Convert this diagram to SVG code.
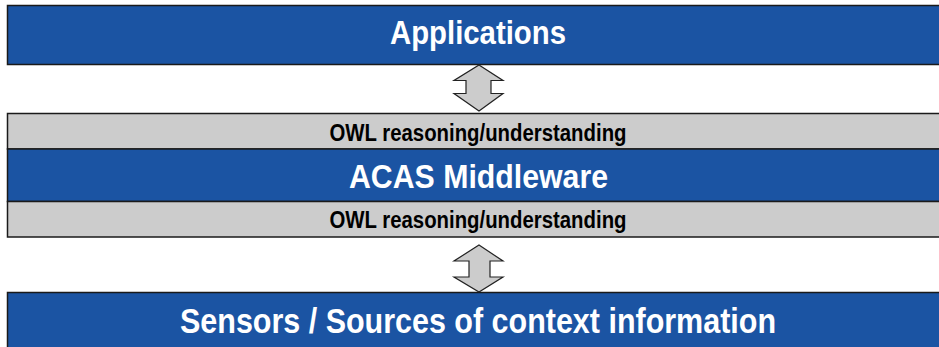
<svg xmlns="http://www.w3.org/2000/svg" width="939" height="347" viewBox="0 0 939 347">
  <style>
    .band { fill: #1b54a3; stroke: #1a1a1a; stroke-width: 1.5; }
    .strip { fill: #cccccc; stroke: #1a1a1a; stroke-width: 1.5; }
    .title { font-family: "Liberation Sans", Arial, sans-serif; font-weight: bold; fill: #ffffff; text-anchor: middle; }
    .sub { font-family: "Liberation Sans", Arial, sans-serif; font-weight: bold; fill: #000000; text-anchor: middle; font-size: 23.5px; }
    .dbl { fill: #cccccc; stroke: #222222; stroke-width: 1.2; stroke-linejoin: miter; }
  </style>
  <rect width="939" height="347" fill="#ffffff"/>

  <!-- Top layer -->
  <g id="applications">
    <rect class="band" x="7.5" y="5.5" width="940" height="59"/>
    <text class="title" x="478" y="44" font-size="33" textLength="176" lengthAdjust="spacingAndGlyphs">Applications</text>
  </g>

  <!-- Middleware stack: reasoning strip, middleware, reasoning strip -->
  <g id="owl-upper">
    <rect class="strip" x="7.5" y="113.5" width="940" height="35.5"/>
    <text class="sub" x="478" y="140.5" textLength="297" lengthAdjust="spacingAndGlyphs">OWL reasoning/understanding</text>
  </g>
  <g id="middleware">
    <rect class="band" x="7.5" y="149" width="940" height="52.5"/>
    <text class="title" x="478.5" y="188" font-size="33.5" textLength="259" lengthAdjust="spacingAndGlyphs">ACAS Middleware</text>
  </g>
  <g id="owl-lower">
    <rect class="strip" x="7.5" y="201.5" width="940" height="35.5"/>
    <text class="sub" x="478" y="227.5" textLength="297" lengthAdjust="spacingAndGlyphs">OWL reasoning/understanding</text>
  </g>

  <!-- Bottom layer -->
  <g id="sensors">
    <rect class="band" x="7.5" y="292.5" width="940" height="60"/>
    <text class="title" x="478" y="333" font-size="35" textLength="596" lengthAdjust="spacingAndGlyphs">Sensors / Sources of context information</text>
  </g>

  <!-- Two-way block arrows between layers -->
  <g id="connectors">
    <path class="dbl" d="M479 65 L503 80.5 L491 80.5 L491 93.5 L503 93.5 L479 111 L454 93.5 L466 93.5 L466 80.5 L454 80.5 Z"/>
    <path class="dbl" d="M479 245 L503 261 L490 261 L490 277 L503 277 L479 292 L454 277 L469 277 L469 261 L454 261 Z"/>
  </g>
</svg>
